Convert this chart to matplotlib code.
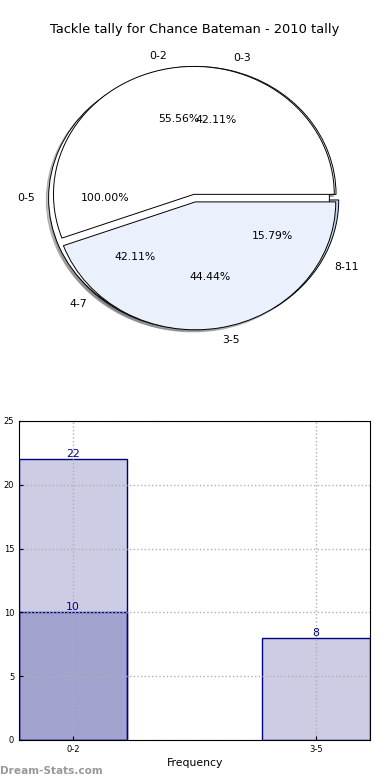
import matplotlib
matplotlib.use("Agg")
import matplotlib.pyplot as plt

# pie data: three overlaid tallies (as in the source image)
pie_a_labels = ["0-5"]
pie_a_values = [19]
pie_b_labels = ["0-2", "3-5"]
pie_b_values = [10, 8]
pie_c_labels = ["0-3", "4-7", "8-11"]
pie_c_values = [8, 8, 3]
pie_colors = ["#ffffff", "#eaf0fc", "#c4d4f0"]

# bar data
categories = ["0-2", "3-5"]
tackles_total = [22, 8]
tackles_part = [10, 0]

fig = plt.figure(figsize=(3.9, 7.8), dpi=100)
fig.text(0.5, 1 - 30 / 780, "Tackle tally for Chance Bateman - 2010 tally",
         ha="center", va="center", fontsize=9.4)

# ---- pie ----
ax1 = fig.add_axes([0.049, 0.541, 0.9, 0.41])
shadow = dict(ox=-0.012, oy=-0.012, shade=0.5)
pie_kw = dict(colors=pie_colors, autopct="%1.2f%%", shadow=shadow, startangle=0,
              wedgeprops=dict(edgecolor="black", linewidth=0.7),
              textprops=dict(fontsize=7.8))
ax1.pie(pie_c_values, labels=pie_c_labels, explode=[0.03] * 3, **pie_kw)
ax1.pie(pie_a_values, labels=pie_a_labels, explode=[0.04], **pie_kw)
ax1.pie(pie_b_values, labels=pie_b_labels, explode=[0.03] * 2, **pie_kw)
ax1.set_aspect("auto")
ax1.set_xlim(-1.25, 1.25)
ax1.set_ylim(-1.25, 1.25)

# ---- bars ----
ax2 = fig.add_axes([0.049, 0.0513, 0.9, 0.409])
x = list(range(len(categories)))
w = 0.444
ax2.bar(x, tackles_total, width=w, color="navy", alpha=0.2)
ax2.bar(x, tackles_total, width=w, facecolor="none", edgecolor="navy", linewidth=1)
part_x = [xi for xi, v in zip(x, tackles_part) if v > 0]
part_v = [v for v in tackles_part if v > 0]
ax2.bar(part_x, part_v, width=w, color="navy", alpha=0.2)
ax2.bar(part_x, part_v, width=w, facecolor="none", edgecolor="navy", linewidth=1)
for xi, v in zip(x, tackles_total):
    ax2.text(xi, v, str(v), ha="center", va="bottom", color="navy", fontsize=7.8)
for xi, v in zip(part_x, part_v):
    ax2.text(xi, v, str(v), ha="center", va="bottom", color="navy", fontsize=7.8)

ax2.set_xlim(-w / 2, 1 + w / 2)
ax2.set_ylim(0, 25)
ax2.set_yticks([0, 5, 10, 15, 20, 25])
ax2.set_xticks(x)
ax2.set_xticklabels(categories)
ax2.tick_params(labelsize=6, direction="in", length=3, width=0.8)
ax2.grid(True, linestyle=":", color="#b0b0b0", linewidth=1)
ax2.set_axisbelow(False)
for sp in ax2.spines.values():
    sp.set_zorder(5)
ax2.set_xlabel("Frequency", fontsize=7.8, labelpad=3)
ax2.set_ylabel("Total Tackles", fontsize=7.5)
ax2.yaxis.set_label_coords(-0.065, 0.5)

fig.text(0.0, 1 - 771 / 780, "Dream-Stats.com", ha="left", va="center",
         fontsize=7.6, fontweight="bold", color="#999999")

fig.savefig("out.png", dpi=100)
